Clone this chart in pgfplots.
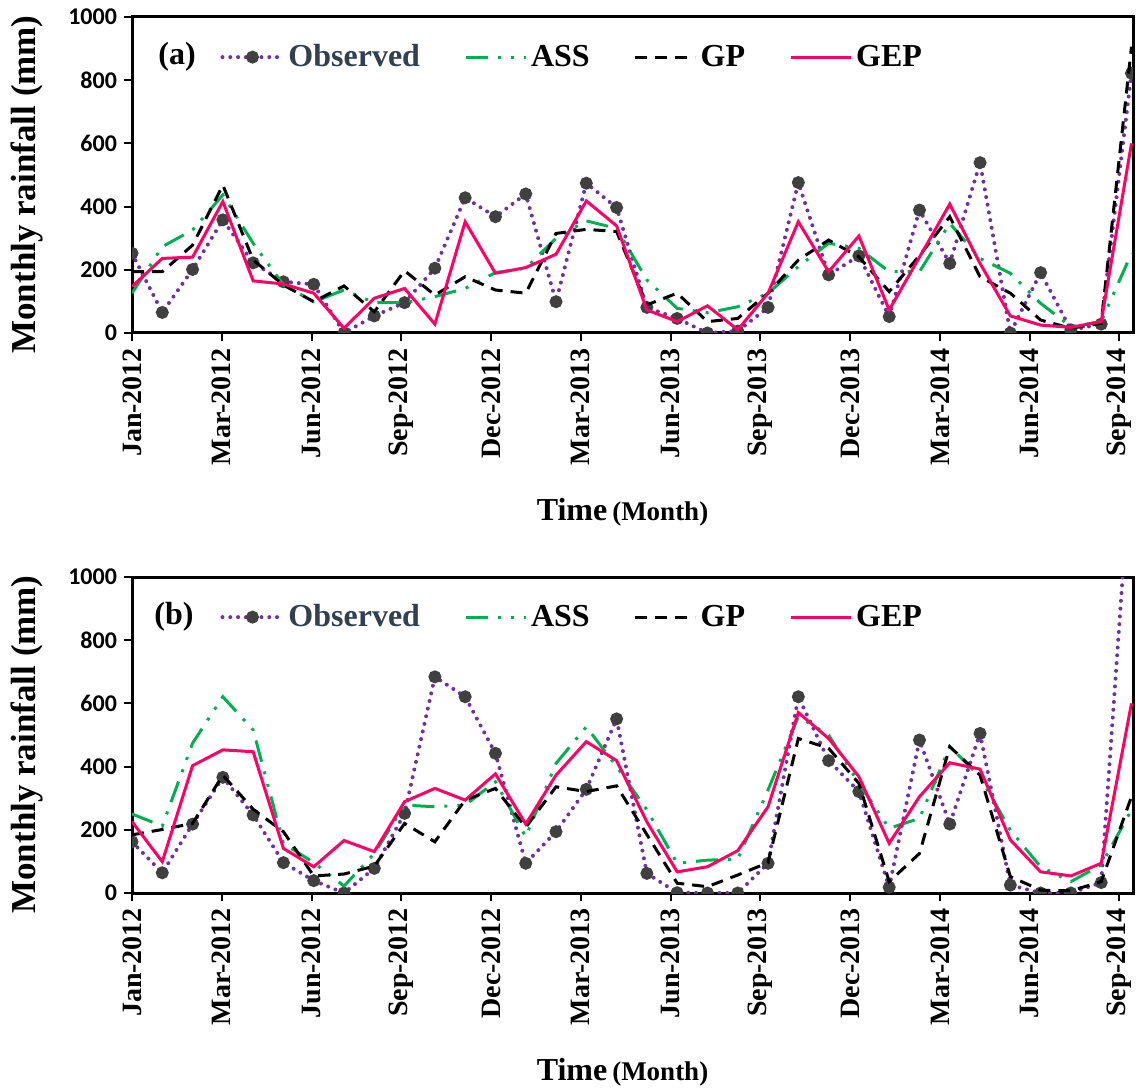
\documentclass[border=0pt]{standalone}
\usepackage{fontspec}
\setmainfont{Liberation Serif}
\newfontfamily\numfont{Carlito}
\usepackage{pgfplots}
\usepackage{pgfplotstable}
\pgfplotsset{compat=1.18}
\definecolor{obsline}{HTML}{7030A0}
\definecolor{assline}{HTML}{00B050}
\definecolor{gepline}{HTML}{FF0066}
\definecolor{markgray}{HTML}{404040}
\definecolor{obstext}{HTML}{323F4F}

% k = month index from Jan-2012
\pgfplotstableread{
k obs ass gp gep
0 252 126 194 147
1 65 273 194 236
2 201 326 278 240
3 358 437 468 416
4 222 284 231 165
5 162 152 152 155
6 154 99 99 126
7 0 136 149 15
8 54 96 67 110
9 96 96 197 141
10 205 115 120 28
11 428 141 178 352
12 368 191 136 189
13 440 205 126 207
14 99 300 315 249
15 474 355 328 418
16 397 331 321 339
17 81 168 89 73
18 46 78 126 36
19 0 64 36 86
20 6 83 46 10
21 81 126 126 126
22 476 210 231 352
23 184 284 294 194
24 244 268 241 307
25 52 194 131 73
26 389 194 245 240
27 220 347 368 408
28 539 236 178 220
29 0 189 126 54
30 191 94 41 25
31 10 20 15 18
32 28 36 31 36
33 822 252 906 600
}\dataA

\pgfplotstableread{
k obs ass gp gep
0 162 250 184 226
1 64 212 201 99
2 218 474 220 403
3 366 621 373 453
4 247 516 265 447
5 96 157 194 141
6 39 96 54 83
7 0 22 60 166
8 78 125 85 131
9 252 278 220 289
10 684 273 162 331
11 621 278 294 294
12 442 352 331 377
13 94 178 208 218
14 194 410 336 373
15 328 526 321 479
16 551 400 339 419
17 62 263 185 225
18 1 94 31 67
19 0 104 20 83
20 0 107 57 134
21 94 326 96 273
22 621 558 489 571
23 419 500 458 489
24 321 347 347 368
25 18 205 36 157
26 484 236 125 305
27 218 463 463 412
28 505 368 373 392
29 25 199 52 168
30 0 83 9 67
31 0 36 7 54
32 33 89 36 94
33 1400 263 305 600
}\dataB

\pgfplotsset{
  obs/.style={color=obsline, line width=2pt, dash pattern=on 0pt off 3.9pt, line cap=round,
    mark=*, mark size=2.2pt, mark options={solid, fill=markgray, draw=markgray}},
  ass/.style={color=assline, line width=1.5pt, dash pattern=on 11pt off 5pt on 1.5pt off 5pt on 1.5pt off 5pt},
  gp/.style={color=black, line width=1.5pt, dash pattern=on 6pt off 4pt},
  gep/.style={color=gepline, line width=1.5pt},
  panel/.style={
    scale only axis, width=500.5pt, height=158pt,
    xmin=0, xmax=33.05, ymin=0, ymax=1000,
    clip marker paths=true,
    ytick={0,200,...,1000},
    xtick={0,2.964,5.927,8.891,11.855,14.818,17.782,20.746,23.710,26.673,29.637,32.601},
    xticklabels={Jan-2012,Mar-2012,Jun-2012,Sep-2012,Dec-2012,Mar-2013,Jun-2013,Sep-2013,Dec-2013,Mar-2014,Jun-2014,Sep-2014},
    xticklabel style={rotate=90, anchor=east, font=\bfseries\fontsize{14}{14}\selectfont},
    yticklabel style={font=\numfont\bfseries\fontsize{12}{12}\selectfont},
    /pgf/number format/assume math mode=true,
    /pgf/number format/1000 sep={},
    axis line style={line width=1.5pt},
    tick style={line width=1pt, black},
    tick align=outside, major tick length=4pt,
    xtick pos=bottom, ytick pos=left,
    ylabel={Monthly rainfall (mm)},
    ylabel style={at={(axis description cs:-0.105,0.47)}, anchor=center,
      font=\bfseries\fontsize{17.5}{17.5}\selectfont},
    xlabel={{\fontsize{16}{16}\selectfont Time} {\fontsize{13.5}{13.5}\selectfont(Month)}},
    xlabel style={at={(axis description cs:0.5,0)}, anchor=center, yshift=-89.5pt, xshift=-5pt,
      font=\bfseries},
    legend columns=4,
    legend style={at={(0.088,0.873)}, anchor=west, draw=none, fill=none, inner sep=0pt,
      font=\bfseries\fontsize{16}{16}\selectfont,
      /tikz/every even column/.append style={column sep=20pt}},
    legend image code/.code={\draw[mark repeat=2,mark phase=2,##1] plot coordinates {(0pt,0pt) (15pt,0pt) (30pt,0pt)};},
  }
}

\begin{document}
\begin{tikzpicture}
\path[use as bounding box] (0,0) rectangle (568pt,544pt);
\begin{axis}[panel, at={(66pt,377.5pt)}, anchor=south west]
\addplot[obs] table[x=k,y=obs]{\dataA};
\addplot[ass] table[x=k,y=ass]{\dataA};
\addplot[gp] table[x=k,y=gp]{\dataA};
\addplot[gep] table[x=k,y=gep]{\dataA};
\legend{\textcolor{obstext}{Observed},ASS,GP,GEP}
\node[font=\bfseries\fontsize{16}{16}\selectfont] at (rel axis cs:0.045,0.873) {(a)};
\end{axis}
\begin{axis}[panel, at={(66pt,97.5pt)}, anchor=south west]
\addplot[obs] table[x=k,y=obs]{\dataB};
\addplot[ass] table[x=k,y=ass]{\dataB};
\addplot[gp] table[x=k,y=gp]{\dataB};
\addplot[gep] table[x=k,y=gep]{\dataB};
\legend{\textcolor{obstext}{Observed},ASS,GP,GEP}
\node[font=\bfseries\fontsize{16}{16}\selectfont] at (rel axis cs:0.042,0.873) {(b)};
\end{axis}
\end{tikzpicture}
\end{document}
